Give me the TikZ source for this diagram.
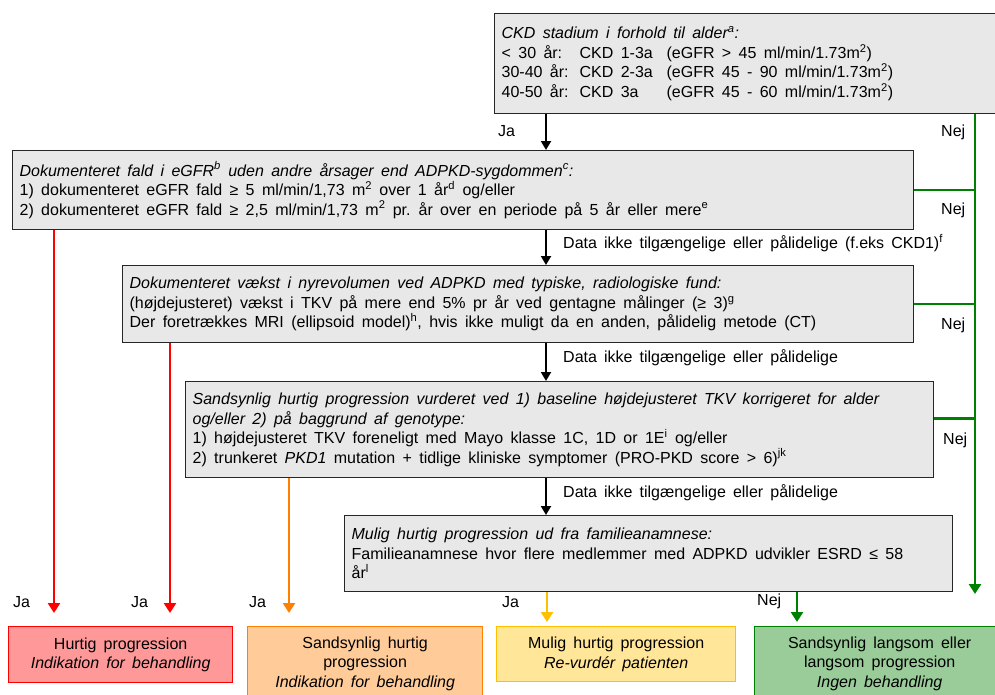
\documentclass[tikz,border=0pt]{standalone}
\usepackage{fontspec}
\setmainfont{Liberation Sans}[WordSpace=1.6]
\usetikzlibrary{arrows.meta,positioning}
\definecolor{boxgray}{HTML}{E8E8E8}
\definecolor{redfill}{HTML}{FF9999}
\definecolor{redline}{HTML}{FF0000}
\definecolor{orangefill}{HTML}{FFCC99}
\definecolor{orangeline}{HTML}{FF8000}
\definecolor{yellowfill}{HTML}{FFE699}
\definecolor{yellowline}{HTML}{FFC000}
\definecolor{greenfill}{HTML}{99CC99}
\definecolor{greenline}{HTML}{008000}
\newcommand\flowfont{\fontsize{16}{19.5}\selectfont}

\begin{document}
\begin{tikzpicture}[x=1pt,y=-1pt,
  txt/.style={font=\flowfont},
  gbox/.style={txt,draw=black!85,line width=1.3pt,fill=boxgray,anchor=north west,align=left,inner xsep=7pt,inner ysep=0pt,
    execute at begin node={\spaceskip=0.46em plus 0.1em\relax}},
  res/.style={txt,line width=1.3pt,anchor=north west,align=center,inner sep=0pt},
  arr/.style={line width=2pt,-{Triangle[length=9pt,width=10pt]}},
  carr/.style={line width=2.6pt,-{Triangle[length=10pt,width=12pt]}},
  lbl/.style={txt,inner sep=0pt,anchor=west}]
\clip (0,0) rectangle (995,694);
\fill[white] (0,0) rectangle (995,694);
\node[gbox,minimum width=510pt,minimum height=100pt,text width=496pt] (ckd) at (494,13)
  {\textit{CKD stadium i forhold til alder\textsuperscript{a}:}\\
   \makebox[78pt][l]{< 30 år:}\makebox[87pt][l]{CKD 1-3a}(eGFR > 45 ml/min/1.73m\textsuperscript{2})\\
   \makebox[78pt][l]{30-40 år:}\makebox[87pt][l]{CKD 2-3a}(eGFR 45 - 90 ml/min/1.73m\textsuperscript{2})\\
   \makebox[78pt][l]{40-50 år:}\makebox[87pt][l]{CKD 3a}(eGFR 45 - 60 ml/min/1.73m\textsuperscript{2})};
\node[gbox,minimum width=901pt,minimum height=79pt,text width=887pt] (fald) at (12,150)
  {\textit{Dokumenteret fald i eGFR\textsuperscript{b} uden andre årsager end ADPKD-sygdommen\textsuperscript{c}:}\\
   1) dokumenteret eGFR fald ≥ 5 ml/min/1,73 m\textsuperscript{2} over 1 år\textsuperscript{d} og/eller\\
   2) dokumenteret eGFR fald ≥ 2,5 ml/min/1,73 m\textsuperscript{2} pr. år over en periode på 5 år eller mere\textsuperscript{e}};
\node[gbox,minimum width=791pt,minimum height=77pt,text width=777pt] (tkv) at (122,265)
  {\textit{Dokumenteret vækst i nyrevolumen ved ADPKD med typiske, radiologiske fund:}\\
   (højdejusteret) vækst i TKV på mere end 5\% pr år ved gentagne målinger (≥ 3)\textsuperscript{g}\\
   Der foretrækkes MRI (ellipsoid model)\textsuperscript{h}, hvis ikke muligt da en anden, pålidelig metode (CT)};
\node[gbox,minimum width=748pt,minimum height=96pt,text width=734pt] (geno) at (185,381)
  {\textit{Sandsynlig hurtig progression vurderet ved 1) baseline højdejusteret TKV korrigeret for alder}\\
   \textit{og/eller 2) på baggrund af genotype:}\\
   1) højdejusteret TKV foreneligt med Mayo klasse 1C, 1D or 1E\textsuperscript{i} og/eller\\
   2) trunkeret \textit{PKD1} mutation + tidlige kliniske symptomer (PRO-PKD score > 6)\textsuperscript{jk}};
\node[gbox,minimum width=608pt,minimum height=76pt,text width=594pt] (fam) at (344,515)
  {\textit{Mulig hurtig progression ud fra familieanamnese:}\\
   Familieanamnese hvor flere medlemmer med ADPKD udvikler ESRD ≤ 58\\
   år\textsuperscript{l}};
\node[res,draw=redline,fill=redfill,minimum width=224pt,minimum height=56pt] (hurtig) at (8,626)
  {Hurtig progression\\ \textit{Indikation for behandling}};
\node[res,draw=orangeline,fill=orangefill,minimum width=235pt,minimum height=74pt] (sandhurtig) at (247,626)
  {Sandsynlig hurtig\\ progression\\ \textit{Indikation for behandling}};
\node[res,draw=yellowline,fill=yellowfill,minimum width=239pt,minimum height=55pt] (mulig) at (496,626)
  {Mulig hurtig progression\\ \textit{Re-vurdér patienten}};
\node[res,draw=greenline,fill=greenfill,minimum width=250pt,minimum height=74pt] (langsom) at (754,626)
  {Sandsynlig langsom eller\\ langsom progression\\ \textit{Ingen behandling}};
\coordinate (mid) at (546,0);
\coordinate (gcol) at (975,0);
\coordinate (gend) at (975,594);
\coordinate (r1) at (54,0);
\coordinate (r2) at (170,0);
\coordinate (o1) at (289,0);
\coordinate (y1) at (547,0);
\coordinate (g1) at (797,0);
\draw[arr] (ckd.south -| mid) -- (fald.north -| mid);
\draw[arr] (fald.south -| mid) -- (tkv.north -| mid);
\draw[arr] (tkv.south -| mid) -- (geno.north -| mid);
\draw[arr] (geno.south -| mid) -- (fam.north -| mid);
\draw[carr,greenline] (ckd.south -| gcol) -- (gend);
\draw[line width=2.6pt,greenline] (fald.east) -- (fald.east -| gcol);
\draw[line width=2.6pt,greenline] (tkv.east) -- (tkv.east -| gcol);
\draw[line width=2.6pt,greenline] ([yshift=11pt]geno.east) -- ([yshift=11pt]geno.east -| gcol);
\draw[carr,redline,shorten >=13pt] (fald.south -| r1) -- (hurtig.north -| r1);
\draw[carr,redline,shorten >=13pt] (tkv.south -| r2) -- (hurtig.north -| r2);
\draw[carr,orangeline,shorten >=13pt] (geno.south -| o1) -- (sandhurtig.north -| o1);
\draw[carr,yellowline,shorten >=4pt] (fam.south -| y1) -- (mulig.north -| y1);
\draw[carr,greenline,shorten >=4pt] (fam.south -| g1) -- (langsom.north -| g1);
\node[lbl] (ja0) at (498,131) {Ja};
\node[lbl] (nej1) at (941,132) {Nej};
\node[lbl] (nej2) at (941,210) {Nej};
\node[lbl] (nej3) at (941,325) {Nej};
\node[lbl] (nej4) at (943,440) {Nej};
\node[lbl] (data1) at (563,243) {Data ikke tilgængelige eller pålidelige (f.eks CKD1)\textsuperscript{f}};
\node[lbl] (data2) at (563,358) {Data ikke tilgængelige eller pålidelige};
\node[lbl] (data3) at (563,493) {Data ikke tilgængelige eller pålidelige};
\node[lbl] (ja1) at (13,602) {Ja};
\node[lbl] (ja2) at (131,602) {Ja};
\node[lbl] (ja3) at (249,602) {Ja};
\node[lbl] (ja4) at (502,602) {Ja};
\node[lbl] (nej5) at (757,601) {Nej};
\end{tikzpicture}
\end{document}
